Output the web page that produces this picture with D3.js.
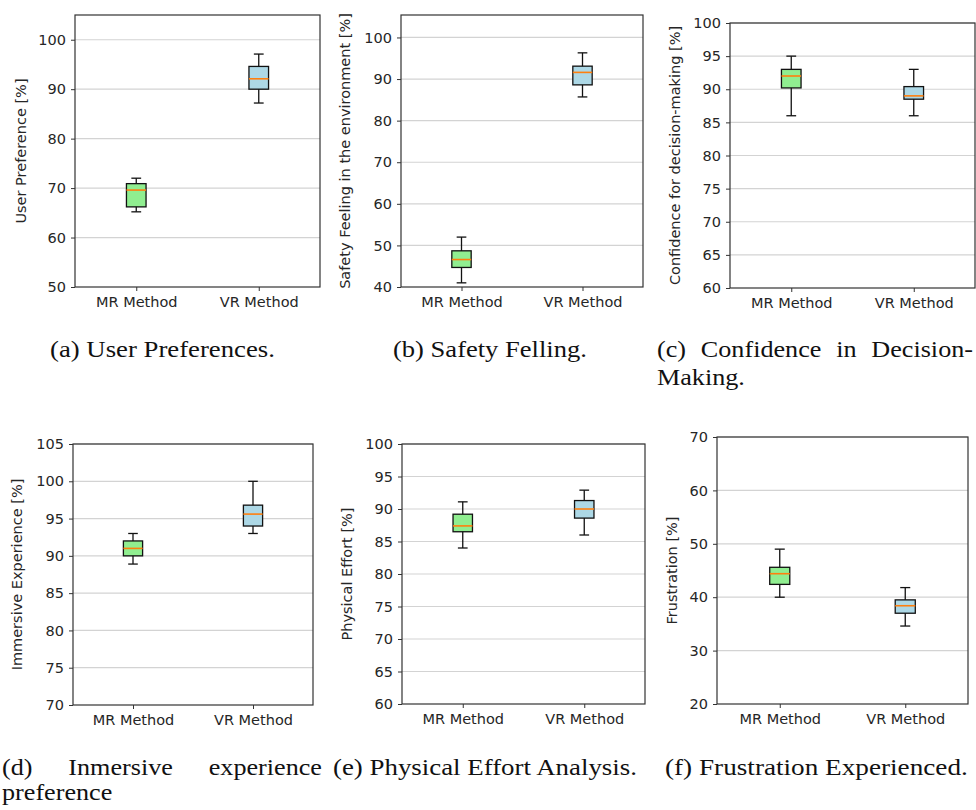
<!DOCTYPE html>
<html>
<head>
  <meta charset="utf-8">
  <title>Box plots MR vs VR</title>
  <style type="text/css">
    body { margin: 0; background: #fff; }
    svg { display: block; }
    .tick text { font-family: "DejaVu Sans", sans-serif; font-size: 14.5px; fill: #262626; }
    .ylab { font-family: "DejaVu Sans", sans-serif; font-size: 14.5px; fill: #262626; }
    .cap { font-family: "Liberation Serif", serif; font-size: 24px; fill: #111; }
  </style>
</head>
<body>
  <svg width="976" height="810"></svg>
  <script src="https://d3js.org/d3.v7.min.js"></script>
  <script>
    // 1. data: [whisker low, Q1, median, Q3, whisker high] for MR and VR
    var methods = ["MR Method", "VR Method"];
    var boxColors = ["#90ee90", "#add8e6"];

    var preferenceStats = [[65.2, 66.2, 69.6, 70.9, 72.0], [87.2, 90.0, 92.1, 94.6, 97.1]];
    var safetyStats = [[41.0, 44.7, 46.6, 48.7, 52.0], [85.7, 88.6, 91.6, 93.1, 96.3]];
    var confidenceStats = [[86.0, 90.2, 92.0, 93.0, 95.0], [86.0, 88.5, 89.0, 90.4, 93.0]];
    var immersiveStats = [[88.9, 90.0, 91.0, 92.0, 93.0], [93.0, 94.0, 95.6, 96.8, 100.0]];
    var effortStats = [[84.0, 86.5, 87.4, 89.2, 91.1], [86.0, 88.6, 90.0, 91.3, 92.9]];
    var frustrationStats = [[40.0, 42.4, 44.4, 45.6, 49.0], [34.6, 37.0, 38.4, 39.5, 41.8]];

    var ticksA = [50, 60, 70, 80, 90, 100];
    var ticksB = [40, 50, 60, 70, 80, 90, 100];
    var ticksC = [60, 65, 70, 75, 80, 85, 90, 95, 100];
    var ticksD = [70, 75, 80, 85, 90, 95, 100, 105];
    var ticksE = [60, 65, 70, 75, 80, 85, 90, 95, 100];
    var ticksF = [20, 30, 40, 50, 60, 70];

    var yLabels = ["User Preference [%]", "Safety Feeling in the environment [%]",
      "Confidence for decision-making [%]", "Immersive Experience [%]",
      "Physical Effort [%]", "Frustration [%]"];

    // 2. panel layout
    var panels = [
      { stats: preferenceStats, ticks: ticksA, domain: [50, 105], box: [75, 320, 15, 287], ylx: 21, label: yLabels[0],
        caption: [{ t: "(a) User Preferences.", x: 50, y: 357, w: 225 }] },
      { stats: safetyStats, ticks: ticksB, domain: [40, 105.4], box: [401, 643, 15, 287], ylx: 345, label: yLabels[1],
        caption: [{ t: "(b) Safety Felling.", x: 393, y: 357, w: 194 }] },
      { stats: confidenceStats, ticks: ticksC, domain: [60, 100], box: [730, 975, 23, 288], ylx: 675, label: yLabels[2],
        caption: [{ t: "(c) Confidence in Decision-", x: 657, y: 357, w: 316, justify: true }, { t: "Making.", x: 657, y: 385 }] },
      { stats: immersiveStats, ticks: ticksD, domain: [70, 105], box: [73, 313, 444, 705], ylx: 17, label: yLabels[3],
        caption: [{ t: "(d) Inmersive experience", x: 2, y: 775, w: 320, justify: true }, { t: "preference", x: 2, y: 800 }] },
      { stats: effortStats, ticks: ticksE, domain: [60, 100], box: [402, 645, 444, 704], ylx: 347, label: yLabels[4],
        caption: [{ t: "(e) Physical Effort Analysis.", x: 333, y: 775, w: 304 }] },
      { stats: frustrationStats, ticks: ticksF, domain: [20, 70], box: [717, 968, 437, 704], ylx: 672, label: yLabels[5],
        caption: [{ t: "(f) Frustration Experienced.", x: 665, y: 775, w: 303 }] }
    ];

    var svg = d3.select("svg");
    var capScale = 1.09; // widen Liberation Serif towards Computer Modern proportions

    panels.forEach(function (p) {
      var left = p.box[0], right = p.box[1], top = p.box[2], bottom = p.box[3];
      var x = d3.scalePoint().domain(methods).range([left, right]).padding(0.5);
      var y = d3.scaleLinear().domain(p.domain).range([bottom, top]);
      var g = svg.append("g");

      // grid
      g.selectAll("line.grid")
        .data(p.ticks.filter(function (t) { return t > p.domain[0]; }))
        .enter().append("line")
        .attr("class", "grid")
        .attr("x1", left).attr("x2", right)
        .attr("y1", function (d) { return y(d); })
        .attr("y2", function (d) { return y(d); })
        .attr("stroke", "#d3d3d3").attr("stroke-width", 1.2);

      // axes
      var yAxis = d3.axisLeft(y).tickValues(p.ticks).tickFormat(d3.format("d")).tickSize(4).tickPadding(5);
      var gy = g.append("g").attr("transform", "translate(" + left + ",0)").call(yAxis);
      var xAxis = d3.axisBottom(x).tickSize(4).tickPadding(6);
      var gx = g.append("g").attr("transform", "translate(0," + bottom + ")").call(xAxis);
      [gx, gy].forEach(function (a) {
        a.select(".domain").remove();
        a.selectAll(".tick line").attr("stroke", "#333").attr("stroke-width", 1);
      });

      g.append("rect")
        .attr("x", left).attr("y", top)
        .attr("width", right - left).attr("height", bottom - top)
        .attr("fill", "none").attr("stroke", "#333").attr("stroke-width", 1.2);

      // boxes
      var bw = (right - left) * 0.08;
      var bx = g.selectAll("g.bx").data(p.stats).enter().append("g");
      bx.append("line")
        .attr("x1", function (d, i) { return x(methods[i]); })
        .attr("x2", function (d, i) { return x(methods[i]); })
        .attr("y1", function (d) { return y(d[0]); })
        .attr("y2", function (d) { return y(d[4]); })
        .attr("stroke", "#111").attr("stroke-width", 1.3);
      [0, 4].forEach(function (k) {
        bx.append("line")
          .attr("x1", function (d, i) { return x(methods[i]) - bw / 4; })
          .attr("x2", function (d, i) { return x(methods[i]) + bw / 4; })
          .attr("y1", function (d) { return y(d[k]); })
          .attr("y2", function (d) { return y(d[k]); })
          .attr("stroke", "#111").attr("stroke-width", 1.3);
      });
      bx.append("rect")
        .attr("x", function (d, i) { return x(methods[i]) - bw / 2; })
        .attr("y", function (d) { return y(d[3]); })
        .attr("width", bw)
        .attr("height", function (d) { return y(d[1]) - y(d[3]); })
        .attr("fill", function (d, i) { return boxColors[i]; })
        .attr("stroke", "#111").attr("stroke-width", 1.3);
      bx.append("line")
        .attr("x1", function (d, i) { return x(methods[i]) - bw / 2; })
        .attr("x2", function (d, i) { return x(methods[i]) + bw / 2; })
        .attr("y1", function (d) { return y(d[2]); })
        .attr("y2", function (d) { return y(d[2]); })
        .attr("stroke", "#ff7f0e").attr("stroke-width", 1.6);

      // y label
      g.append("text").attr("class", "ylab")
        .attr("transform", "translate(" + p.ylx + "," + (top + bottom) / 2 + ") rotate(-90)")
        .attr("text-anchor", "middle").attr("dy", "0.35em")
        .text(p.label);

      // caption: justified lines spread word by word, others scaled to width
      p.caption.forEach(function (c) {
        var line = g.append("g");
        if (c.justify) {
          line.attr("transform", "translate(" + c.x + "," + c.y + ") scale(" + capScale + ",1)");
          var words = c.t.split(" ");
          var nodes = words.map(function (w) {
            return line.append("text").attr("class", "cap").text(w);
          });
          var widths = nodes.map(function (n) { return n.node().getComputedTextLength(); });
          var gap = (c.w / capScale - d3.sum(widths)) / (words.length - 1);
          var cx = 0;
          nodes.forEach(function (n, i) {
            n.attr("x", cx);
            cx += widths[i] + gap;
          });
        } else {
          var t = line.append("text").attr("class", "cap").text(c.t);
          var s = c.w ? c.w / t.node().getComputedTextLength() : capScale;
          line.attr("transform", "translate(" + c.x + "," + c.y + ") scale(" + s + ",1)");
        }
      });
    });
  </script>
</body>
</html>
